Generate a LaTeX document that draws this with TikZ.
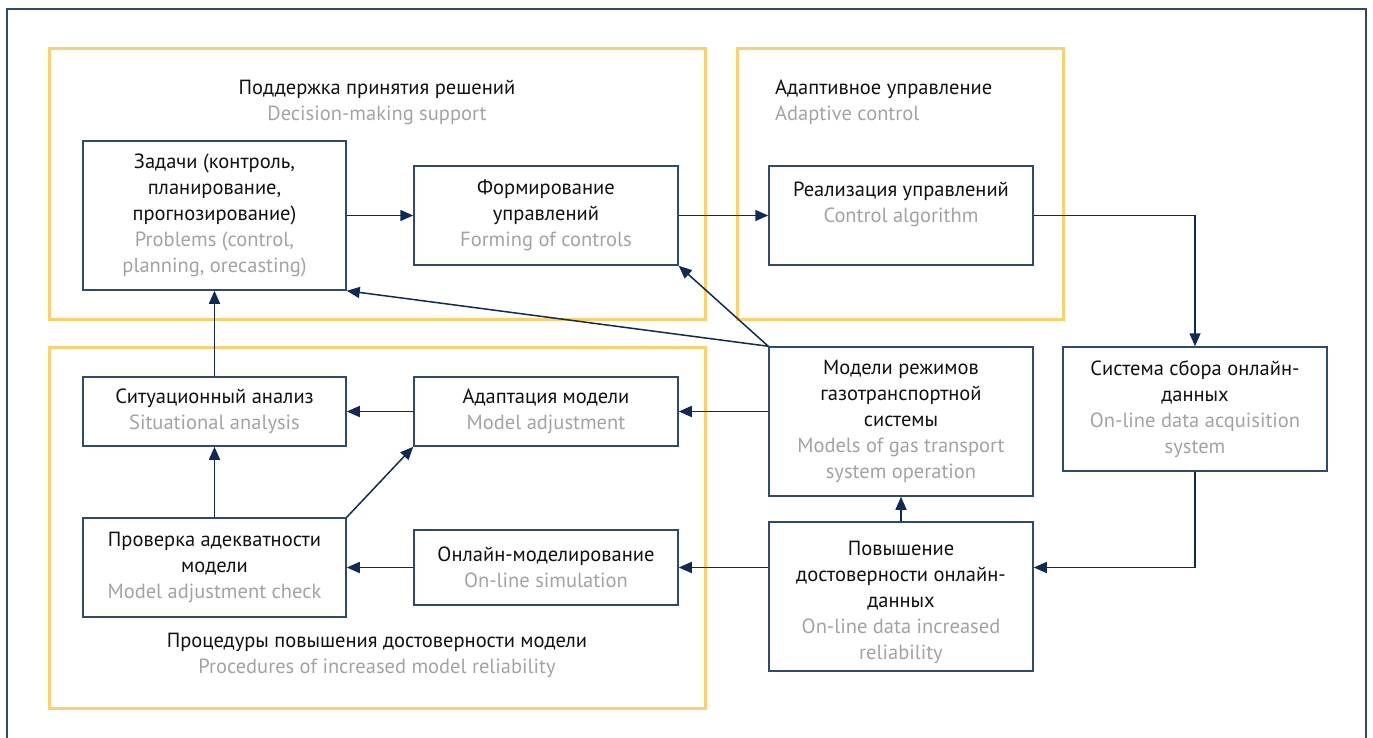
\documentclass[tikz,border=0pt]{standalone}
\usepackage{fontspec}
\setmainfont{PT Sans}
\usetikzlibrary{arrows.meta}
\definecolor{navy}{HTML}{2E4A72}
\definecolor{arr}{HTML}{0F2B55}
\definecolor{ylw}{HTML}{FDD06C}
\definecolor{gtext}{HTML}{A3A3A3}
\definecolor{btext}{HTML}{111111}
\newcommand{\en}[1]{\textcolor{gtext}{#1}}
\tikzset{
  box/.style={draw=navy, line width=1.5pt, fill=white, inner sep=0pt, align=center,
    text=btext, font=\fontsize{20.5}{26}\selectfont},
  grp/.style={draw=ylw, line width=3pt},
  lbl/.style={inner sep=0pt, align=center, text=btext, font=\fontsize{20.5}{26}\selectfont},
  conn/.style={draw=arr, line width=1.5pt, -{Triangle[length=13pt,width=11pt]}},
}
\begin{document}
\begin{tikzpicture}[x=1pt,y=-1pt]
\useasboundingbox (0,0) rectangle (1373,737);
\clip (0,0) rectangle (1373,737);
\draw[navy, line width=1.5pt] (7,9) rectangle (1366,760);
% groups
\draw[grp] (49,48) rectangle (705,319);
\draw[grp] (737,48) rectangle (1063,319);
\draw[grp] (49,347) rectangle (705,708);
\node[lbl] (g1) at (377,102) {Поддержка принятия решений\\\en{Decision-making support}};
\node[lbl, align=left, anchor=west] (g2) at (775,102) {Адаптивное управление\\\en{Adaptive control}};
\node[lbl] (g3) at (377,655) {Процедуры повышения достоверности модели\\\en{Procedures of increased model reliability}};
% nodes
\node[box, minimum width=263pt, minimum height=149pt] (zad) at (214.5,215.5)
 {Задачи (контроль,\\планирование,\\прогнозирование)\\\en{Problems (control,}\\\en{planning, orecasting)}};
\node[box, minimum width=264pt, minimum height=99pt] (form) at (546,215.5)
 {Формирование\\управлений\\\en{Forming of controls}};
\node[box, minimum width=264pt, minimum height=99pt] (real) at (901,215.5)
 {Реализация управлений\\\en{Control algorithm}\\\mbox{}};
\node[box, minimum width=264pt, minimum height=124pt] (sys) at (1195,409)
 {Система сбора онлайн-\\данных\\\en{On-line data acquisition}\\\en{system}};
\node[box, minimum width=264pt, minimum height=149pt] (mod) at (901,421.5)
 {Модели режимов\\газотранспортной\\системы\\\en{Models of gas transport}\\\en{system operation}};
\node[box, minimum width=264pt, minimum height=149pt] (pov) at (901,596.5)
 {\rule{0pt}{27pt}Повышение\\достоверности онлайн-\\данных\\\en{On-line data increased}\\\en{reliability}};
\node[box, minimum width=263pt, minimum height=69pt] (sit) at (214.5,411.5)
 {Ситуационный анализ\\\en{Situational analysis}};
\node[box, minimum width=264pt, minimum height=69pt] (adp) at (546,411.5)
 {Адаптация модели\\\en{Model adjustment}};
\node[box, minimum width=263pt, minimum height=99pt] (prv) at (214.5,567.5)
 {Проверка адекватности\\модели\\\en{Model adjustment check}};
\node[box, minimum width=264pt, minimum height=75pt] (onl) at (546,567.5)
 {Онлайн-моделирование\\\en{On-line simulation}};
% connectors
\draw[conn] (zad.east) -- (form.west);
\draw[conn] (form.east) -- (real.west);
\draw[conn] (real.east) -| (sys.north);
\draw[conn] (sys.south) |- (pov.east |- onl.east);
\draw[conn] (pov.west |- onl.east) -- (onl.east);
\draw[conn] (onl.west) -- (prv.east |- onl.west);
\draw[conn] (pov.north) -- (mod.south);
\draw[conn] (mod.west |- adp.east) -- (adp.east);
\draw[conn] (adp.west) -- (sit.east);
\draw[conn] (prv.north) -- (sit.south);
\draw[conn] (sit.north) -- (zad.south);
\draw[conn] (prv.north east) -- (adp.south west);
\draw[conn] (mod.north west) -- (zad.south east);
\draw[conn] (mod.north west) -- (form.south east);
\end{tikzpicture}
\end{document}
